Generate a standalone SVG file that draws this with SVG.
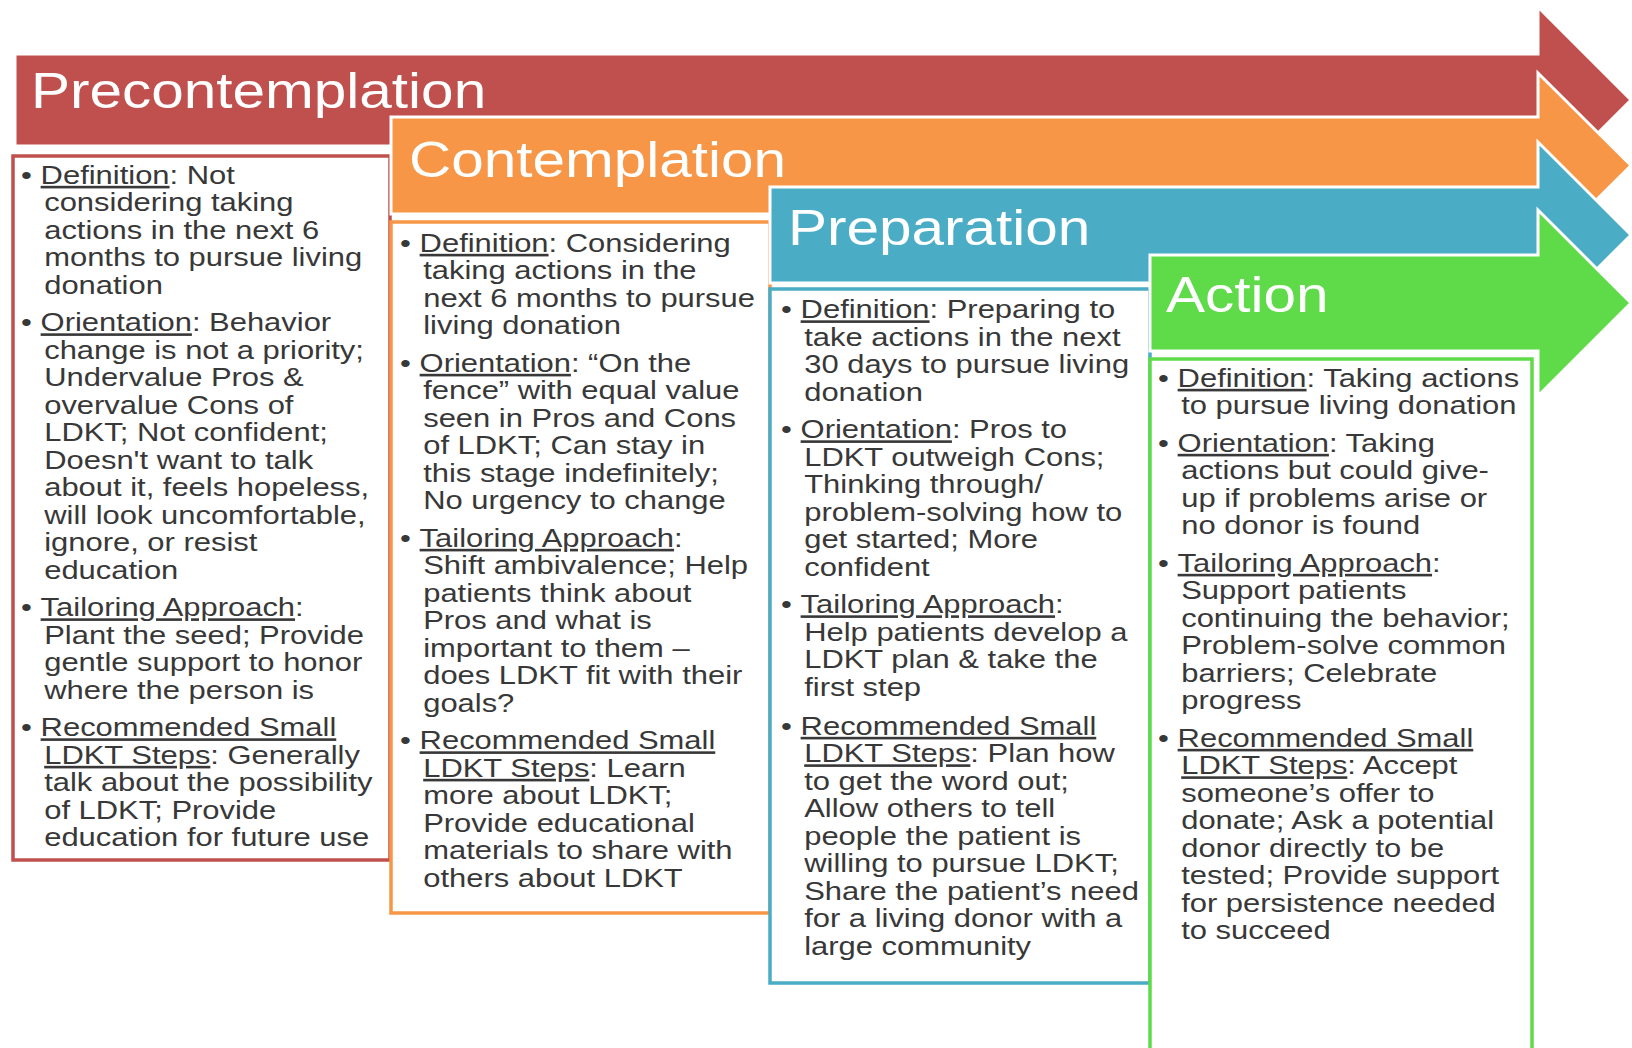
<svg xmlns="http://www.w3.org/2000/svg" width="1632" height="1048" viewBox="0 0 1632 1048">
<style>
.band{stroke:#fff;stroke-width:3;stroke-linejoin:miter}
.box{fill:#fff;stroke-width:3.5}
.title{font-family:"Liberation Sans",Arial,sans-serif;font-size:50px;fill:#fff}
.body{font-family:"Liberation Sans",Arial,sans-serif;font-size:26px;fill:#383838}
.u{text-decoration:underline}
</style>
<rect width="1632" height="1048" fill="#fff"/>
<g id="connectors"/>
<g id="precontemplation">
<path class="band" fill="#C0504D" d="M15,54 H1538 V7 L1631,100 L1538,193 V146 H15 Z"/>
<rect class="box" stroke="#C0504D" x="13" y="156" width="377" height="704"/>
<text class="title" transform="translate(31,108) scale(1.17,1)">Precontemplation</text>
<text class="body" transform="translate(21,0) scale(1.19,1)">
<tspan x="0" y="184">•</tspan><tspan x="16.5" y="184"><tspan class="u">Definition</tspan>: Not</tspan>
<tspan x="19.5" y="211.5">considering taking</tspan>
<tspan x="19.5" y="239">actions in the next 6</tspan>
<tspan x="19.5" y="266.5">months to pursue living</tspan>
<tspan x="19.5" y="294">donation</tspan>
<tspan x="0" y="331.5">•</tspan><tspan x="16.5" y="331.5"><tspan class="u">Orientation</tspan>: Behavior</tspan>
<tspan x="19.5" y="359">change is not a priority;</tspan>
<tspan x="19.5" y="386.5">Undervalue Pros &amp;</tspan>
<tspan x="19.5" y="414">overvalue Cons of</tspan>
<tspan x="19.5" y="441.5">LDKT; Not confident;</tspan>
<tspan x="19.5" y="469">Doesn't want to talk</tspan>
<tspan x="19.5" y="496.5">about it, feels hopeless,</tspan>
<tspan x="19.5" y="524">will look uncomfortable,</tspan>
<tspan x="19.5" y="551.5">ignore, or resist</tspan>
<tspan x="19.5" y="579">education</tspan>
<tspan x="0" y="616.5">•</tspan><tspan x="16.5" y="616.5"><tspan class="u">Tailoring Approach</tspan>:</tspan>
<tspan x="19.5" y="644">Plant the seed; Provide</tspan>
<tspan x="19.5" y="671.5">gentle support to honor</tspan>
<tspan x="19.5" y="699">where the person is</tspan>
<tspan x="0" y="736.5">•</tspan><tspan x="16.5" y="736.5" class="u">Recommended Small</tspan>
<tspan x="19.5" y="764"><tspan class="u">LDKT Steps</tspan>: Generally</tspan>
<tspan x="19.5" y="791.5">talk about the possibility</tspan>
<tspan x="19.5" y="819">of LDKT; Provide</tspan>
<tspan x="19.5" y="846.5">education for future use</tspan>
</text>
</g>
<g id="contemplation">
<path class="band" fill="#F79646" d="M391,117 H1538 V73 L1631,165.5 L1538,258 V214 H391 Z"/>
<rect class="box" stroke="#F79646" x="391" y="222" width="379" height="691"/>
<text class="title" transform="translate(409,177) scale(1.17,1)">Contemplation</text>
<text class="body" transform="translate(400,0) scale(1.19,1)">
<tspan x="0" y="252">•</tspan><tspan x="16.5" y="252"><tspan class="u">Definition</tspan>: Considering</tspan>
<tspan x="19.5" y="279.5">taking actions in the</tspan>
<tspan x="19.5" y="307">next 6 months to pursue</tspan>
<tspan x="19.5" y="334.5">living donation</tspan>
<tspan x="0" y="372">•</tspan><tspan x="16.5" y="372"><tspan class="u">Orientation</tspan>: “On the</tspan>
<tspan x="19.5" y="399.5">fence” with equal value</tspan>
<tspan x="19.5" y="427">seen in Pros and Cons</tspan>
<tspan x="19.5" y="454.5">of LDKT; Can stay in</tspan>
<tspan x="19.5" y="482">this stage indefinitely;</tspan>
<tspan x="19.5" y="509.5">No urgency to change</tspan>
<tspan x="0" y="547">•</tspan><tspan x="16.5" y="547"><tspan class="u">Tailoring Approach</tspan>:</tspan>
<tspan x="19.5" y="574.5">Shift ambivalence; Help</tspan>
<tspan x="19.5" y="602">patients think about</tspan>
<tspan x="19.5" y="629.5">Pros and what is</tspan>
<tspan x="19.5" y="657">important to them –</tspan>
<tspan x="19.5" y="684.5">does LDKT fit with their</tspan>
<tspan x="19.5" y="712">goals?</tspan>
<tspan x="0" y="749.5">•</tspan><tspan x="16.5" y="749.5" class="u">Recommended Small</tspan>
<tspan x="19.5" y="777"><tspan class="u">LDKT Steps</tspan>: Learn</tspan>
<tspan x="19.5" y="804.5">more about LDKT;</tspan>
<tspan x="19.5" y="832">Provide educational</tspan>
<tspan x="19.5" y="859.5">materials to share with</tspan>
<tspan x="19.5" y="887">others about LDKT</tspan>
</text>
</g>
<g id="preparation">
<path class="band" fill="#4BACC6" d="M770,187 H1538 V142 L1631,235 L1538,328 V283 H770 Z"/>
<rect class="box" stroke="#4BACC6" x="770" y="289" width="380" height="694"/>
<text class="title" transform="translate(788,245) scale(1.17,1)">Preparation</text>
<text class="body" transform="translate(781,0) scale(1.19,1)">
<tspan x="0" y="318.5">•</tspan><tspan x="16.5" y="318.5"><tspan class="u">Definition</tspan>: Preparing to</tspan>
<tspan x="19.5" y="346">take actions in the next</tspan>
<tspan x="19.5" y="373.5">30 days to pursue living</tspan>
<tspan x="19.5" y="401">donation</tspan>
<tspan x="0" y="438.5">•</tspan><tspan x="16.5" y="438.5"><tspan class="u">Orientation</tspan>: Pros to</tspan>
<tspan x="19.5" y="466">LDKT outweigh Cons;</tspan>
<tspan x="19.5" y="493.5">Thinking through/</tspan>
<tspan x="19.5" y="521">problem-solving how to</tspan>
<tspan x="19.5" y="548.5">get started; More</tspan>
<tspan x="19.5" y="576">confident</tspan>
<tspan x="0" y="613.5">•</tspan><tspan x="16.5" y="613.5"><tspan class="u">Tailoring Approach</tspan>:</tspan>
<tspan x="19.5" y="641">Help patients develop a</tspan>
<tspan x="19.5" y="668.5">LDKT plan &amp; take the</tspan>
<tspan x="19.5" y="696">first step</tspan>
<tspan x="0" y="735">•</tspan><tspan x="16.5" y="735" class="u">Recommended Small</tspan>
<tspan x="19.5" y="762.5"><tspan class="u">LDKT Steps</tspan>: Plan how</tspan>
<tspan x="19.5" y="790">to get the word out;</tspan>
<tspan x="19.5" y="817.5">Allow others to tell</tspan>
<tspan x="19.5" y="845">people the patient is</tspan>
<tspan x="19.5" y="872.5">willing to pursue LDKT;</tspan>
<tspan x="19.5" y="900">Share the patient’s need</tspan>
<tspan x="19.5" y="927.5">for a living donor with a</tspan>
<tspan x="19.5" y="955">large community</tspan>
</text>
</g>
<g id="action">
<path class="band" fill="#5FDA48" d="M1150,255 H1538 V210 L1631,303 L1538,396 V351 H1150 Z"/>
<rect class="box" stroke="#5FDA48" x="1150" y="359" width="382" height="700"/>
<text class="title" transform="translate(1166,312) scale(1.17,1)">Action</text>
<text class="body" transform="translate(1158,0) scale(1.19,1)">
<tspan x="0" y="387">•</tspan><tspan x="16.5" y="387"><tspan class="u">Definition</tspan>: Taking actions</tspan>
<tspan x="19.5" y="414.5">to pursue living donation</tspan>
<tspan x="0" y="452">•</tspan><tspan x="16.5" y="452"><tspan class="u">Orientation</tspan>: Taking</tspan>
<tspan x="19.5" y="479.5">actions but could give-</tspan>
<tspan x="19.5" y="507">up if problems arise or</tspan>
<tspan x="19.5" y="534.5">no donor is found</tspan>
<tspan x="0" y="572">•</tspan><tspan x="16.5" y="572"><tspan class="u">Tailoring Approach</tspan>:</tspan>
<tspan x="19.5" y="599.5">Support patients</tspan>
<tspan x="19.5" y="627">continuing the behavior;</tspan>
<tspan x="19.5" y="654.5">Problem-solve common</tspan>
<tspan x="19.5" y="682">barriers; Celebrate</tspan>
<tspan x="19.5" y="709.5">progress</tspan>
<tspan x="0" y="747">•</tspan><tspan x="16.5" y="747" class="u">Recommended Small</tspan>
<tspan x="19.5" y="774.5"><tspan class="u">LDKT Steps</tspan>: Accept</tspan>
<tspan x="19.5" y="802">someone’s offer to</tspan>
<tspan x="19.5" y="829.5">donate; Ask a potential</tspan>
<tspan x="19.5" y="857">donor directly to be</tspan>
<tspan x="19.5" y="884.5">tested; Provide support</tspan>
<tspan x="19.5" y="912">for persistence needed</tspan>
<tspan x="19.5" y="939.5">to succeed</tspan>
</text>
</g>
</svg>
